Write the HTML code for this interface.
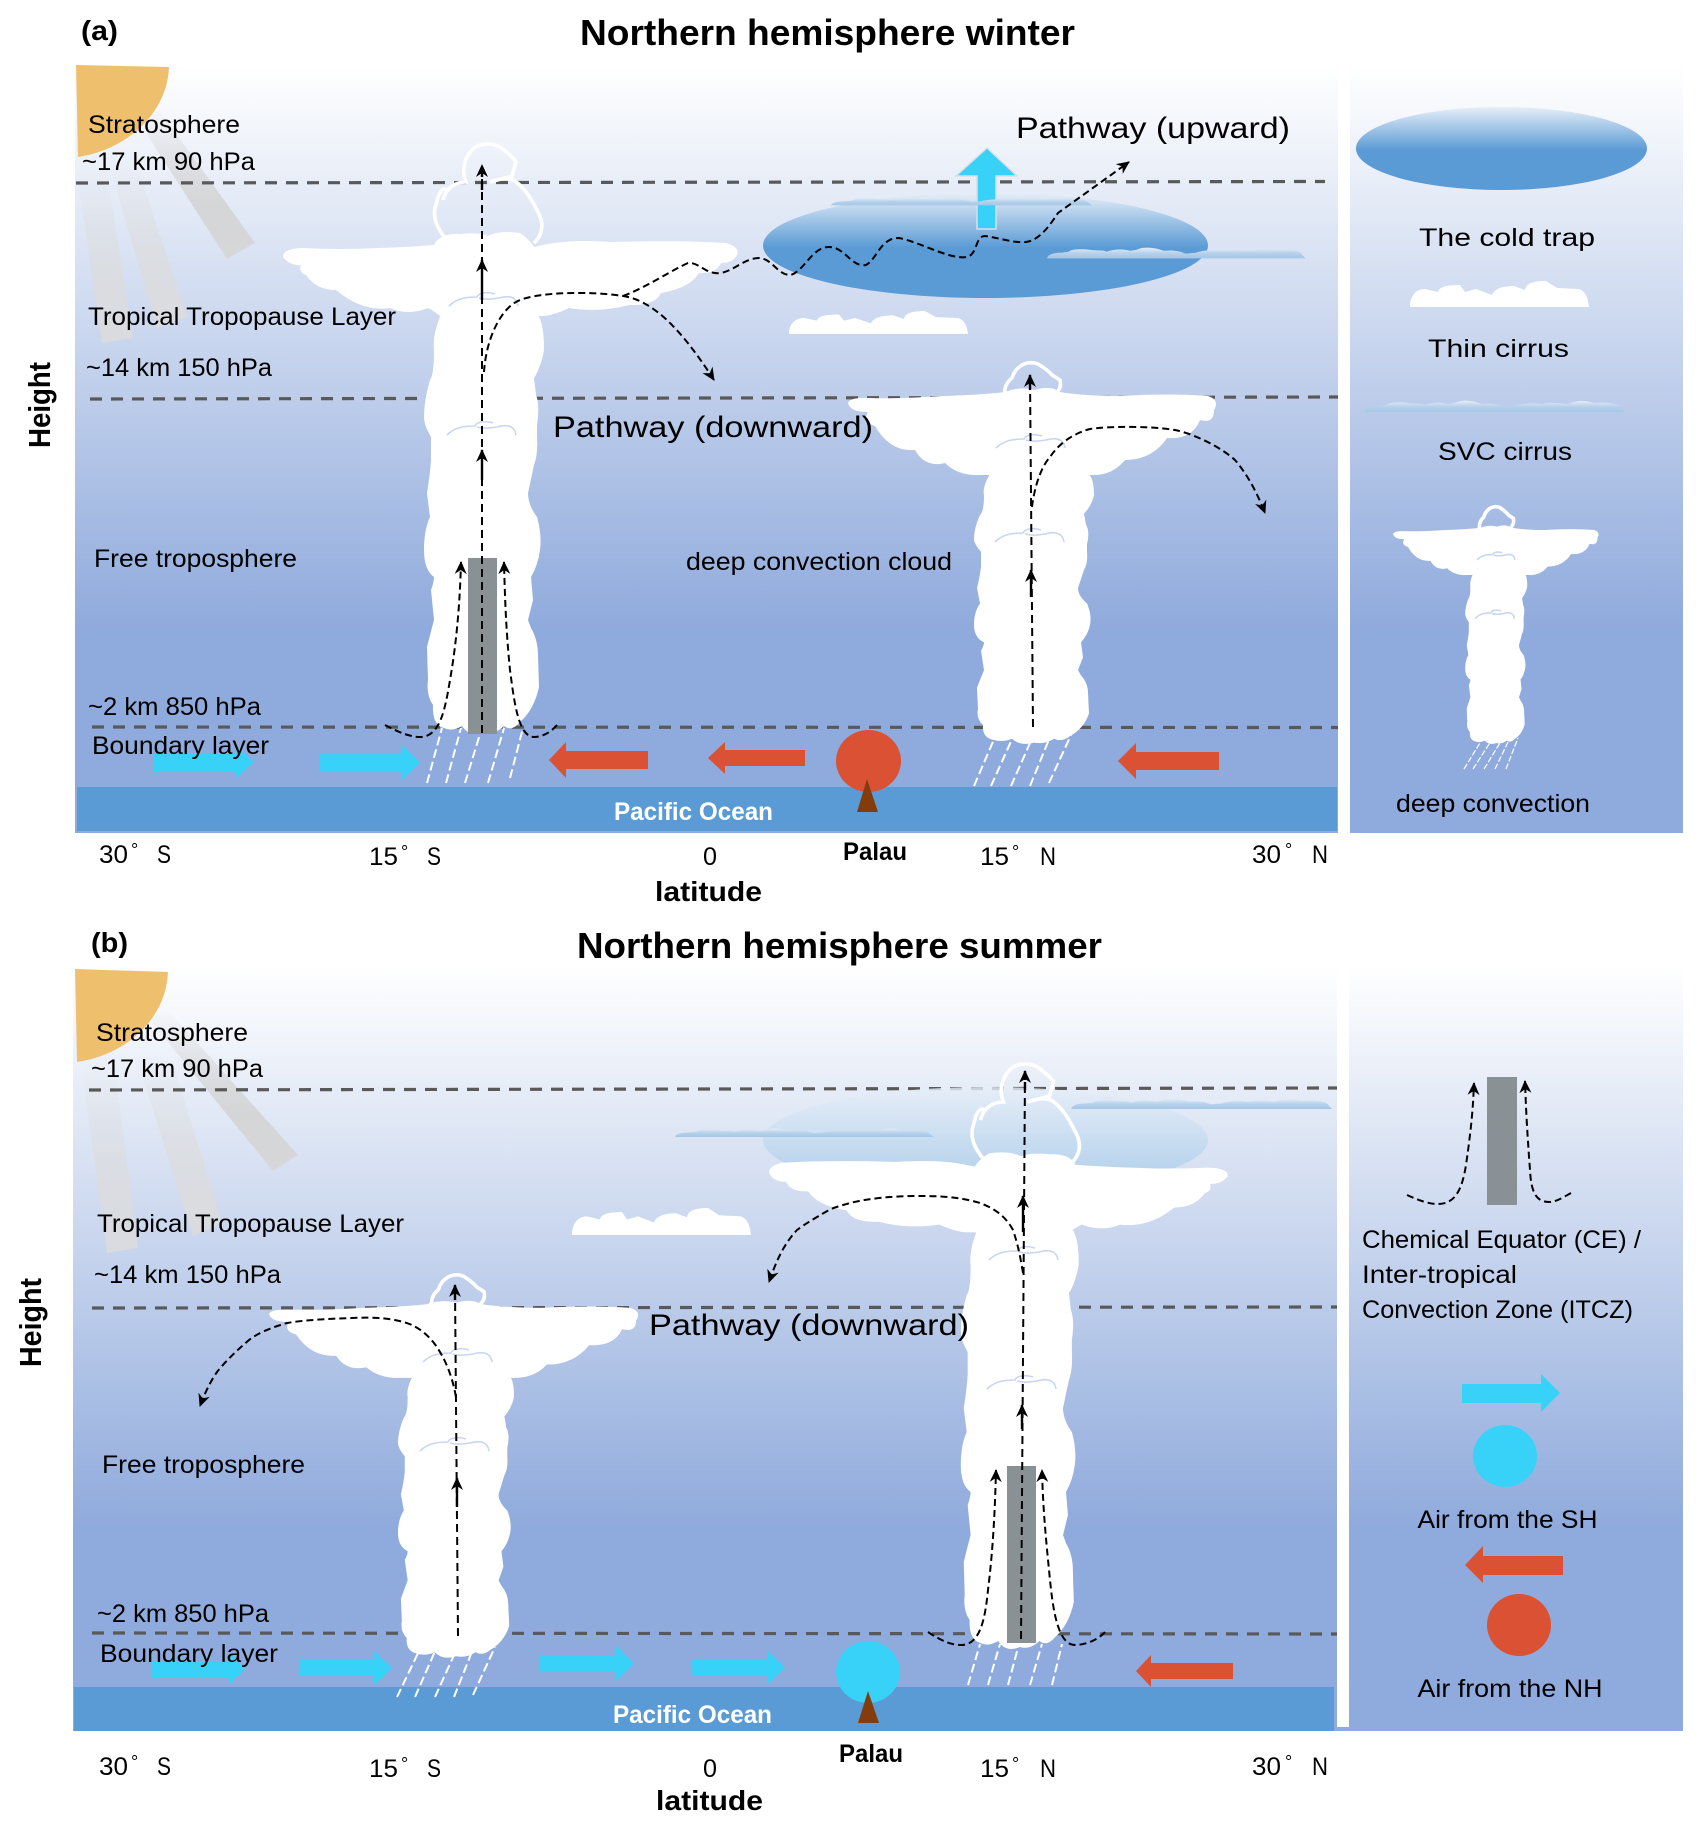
<!DOCTYPE html>
<html><head><meta charset="utf-8"><style>
html,body{margin:0;padding:0;background:#fff}
svg{display:block}
text{font-family:"Liberation Sans",sans-serif;fill:#000;font-size:25px}
.b{font-weight:bold}
.p{font-size:30px}
.dl{stroke:#595959;stroke-width:3.2;stroke-dasharray:12 9;fill:none}
.k{stroke:#000;stroke-width:2;stroke-dasharray:8 5;fill:none}
.c{stroke:#000;stroke-width:2;stroke-dasharray:7 4;fill:none}
.s{stroke:#000;stroke-width:2.4;fill:none}
.r{stroke:#fff;stroke-width:2;stroke-dasharray:9 4;fill:none}
.t{stroke:#fff;stroke-width:3.6;fill:none;vector-effect:non-scaling-stroke}
.a{stroke:#c9d6ef;stroke-width:1.6;fill:none;vector-effect:non-scaling-stroke}
.l{fill:#fff}
</style></head><body>
<svg xmlns="http://www.w3.org/2000/svg" width="1699" height="1828" viewBox="0 0 1699 1828">
<defs>
<linearGradient id="sky" x1="0" y1="0" x2="0" y2="1"><stop offset="0" stop-color="#fff"/><stop offset=".735" stop-color="#8faadc"/><stop offset="1" stop-color="#8faadc"/></linearGradient>
<linearGradient id="trap" x1="0" y1="0" x2="0" y2="1"><stop offset="0" stop-color="#e6eef8"/><stop offset=".52" stop-color="#5b9bd5"/><stop offset="1" stop-color="#5b9bd5"/></linearGradient>
<linearGradient id="trapb" x1="0" y1="0" x2="0" y2="1"><stop offset="0" stop-color="#e6eef8"/><stop offset=".9" stop-color="#a9cce9"/><stop offset="1" stop-color="#a9cce9"/></linearGradient>
<linearGradient id="ray" x1="0" y1="0" x2="0" y2="1"><stop offset="0" stop-color="#cfcfcf" stop-opacity="0"/><stop offset=".65" stop-color="#d3d3d3" stop-opacity=".9"/><stop offset="1" stop-color="#d6d6d6" stop-opacity=".9"/></linearGradient>
<linearGradient id="ray2" x1="0" y1="0" x2="0" y2="1"><stop offset="0" stop-color="#dcdcdc" stop-opacity="0"/><stop offset=".6" stop-color="#dcdcdc" stop-opacity=".75"/><stop offset="1" stop-color="#dcdcdc" stop-opacity=".85"/></linearGradient>
<linearGradient id="svc" x1="0" y1="0" x2="0" y2="1"><stop offset="0" stop-color="#e4edf8"/><stop offset=".55" stop-color="#b5d0ea"/><stop offset="1" stop-color="#a4c7e8"/></linearGradient>
<marker id="ah" markerUnits="userSpaceOnUse" markerWidth="16" markerHeight="14" refX="12" refY="7" orient="auto" viewBox="0 0 16 14"><path d="M0 1 L13 7 L0 13 L4 7 Z" fill="#000"/></marker>
<path id="stem" class="l" d="M442 312 L536 312 C544 322 544 340 544 350 C542 362 538 372 534 378 L536 395 Q540 405 537 425 L537 437 Q538 455 534 465 L528 493 Q528 505 537 517 Q542 535 540 550 Q538 565 531 577 L533 600 L528 620 L531 628 Q538 640 538 655 L539 687 Q534 710 520 722 Q512 732 504 726 Q495 735 484 732 Q470 738 462 726 Q452 732 444 728 Q432 725 433 705 Q426 695 428 680 L427 647 Q430 635 434 620 L431 590 Q434 582 434 577 Q424 570 424 550 Q424 530 430 517 L427 493 Q430 475 431 460 L431 437 Q424 425 424 417 Q424 400 430 380 Q434 375 434 350 Q432 335 442 312 Z"/>
<path id="anvil" class="l" d="M283 257 Q283 248 304 248 Q340 250 379 248 Q410 247 434 245 Q440 233 460 234 Q480 232 488 236 Q500 230 520 233 Q530 240 534 247 Q550 243 564 242 Q580 240 612 242 Q680 240 726 243 Q740 247 737 255 Q733 263 721 263 Q716 274 699 273 Q690 288 661 293 Q655 306 629 305 Q600 313 569 308 Q552 316 542 316 L442 318 Q436 312 428 308 Q408 316 390 308 Q362 312 336 290 Q316 290 306 275 Q298 272 301 265 Q290 266 283 257 Z"/>
<path id="anvil2" class="l" d="M848 403 Q850 397 870 398 Q900 399 942 396 Q980 395 1005 392 Q1020 386 1035 390 Q1050 385 1060 392 Q1085 396 1120 396 Q1170 393 1208 396 Q1220 400 1214 410 Q1214 424 1200 420 Q1192 440 1167 438 Q1152 460 1125 460 Q1112 476 1091 475 L980 475 Q958 476 945 463 Q925 468 915 450 Q890 452 875 426 Q862 422 868 412 Q850 412 848 403 Z"/>
<path id="turret" class="t" d="M447 240 C436 228 432 215 436 205 C438 195 442 186 447 190 M443 200 C446 188 455 182 466 182 C462 172 463 160 472 150 C480 142 495 142 504 150 C510 155 514 158 516 162 L512 176 L490 182 C500 178 510 178 515 181 C525 188 532 200 538 212 C545 225 542 235 534 243"/>
<path id="turret2" class="t" d="M1005 397 Q1003 385 1012 378 Q1014 370 1022 365 Q1030 361 1038 364 Q1048 370 1052 375 L1060 380 Q1062 388 1056 393"/>
<path id="thin" fill="#fff" d="M0 26 C0 16 5 8 15 8 L28 11 C29 6 36 4 50 4 L55 11 L66 8 L82 14 C84 8 92 5 104 5 L115 9 C116 2 124 0 136 0 L147 7 L169 8 C175 10 178 16 179 26 Z"/>
<path id="svcc" fill="url(#svc)" d="M0 12 C1 8 6 6 14 6 L22 5 C24 2 36 2 44 3 C50 4 58 3 60 5 C68 2 78 2 84 4 L90 3 C96 0 104 0 112 2 L118 4 C126 3 134 4 140 7 L150 6 C158 3 170 3 178 4 C186 2 196 3 204 4 C212 0 222 0 230 3 C240 2 252 3 256 6 L261 12 Z"/>
<path id="arc" class="a" d="M0 15 C8 7 18 6 28 6 C30 1 40 1 46 3 M30 7 C38 9 42 8 50 7 C60 4 68 6 69 15"/>
</defs>

<!-- panel backgrounds -->
<rect x="75" y="65" width="1263" height="768" fill="url(#sky)"/>
<rect x="1350" y="65" width="333" height="768" fill="url(#sky)"/>
<rect x="73" y="965" width="1276" height="766" fill="url(#sky)"/>
<rect x="1337" y="960" width="12" height="767" fill="#fff"/>
<rect x="1349" y="965" width="334" height="766" fill="url(#sky)"/>
<rect x="77" y="787" width="1260" height="44" fill="#5b9bd5"/>
<rect x="74" y="1687" width="1260" height="44" fill="#5b9bd5"/>

<!-- panel a: sun and rays -->
<polygon points="157,107 255,243 227,259 146,133" fill="url(#ray)"/>
<polygon points="108,160 135,160 187,317 157,328" fill="url(#ray2)"/>
<polygon points="76,167 106,167 133,338 102,343" fill="url(#ray2)"/>
<path d="M76 65 L169 67 C167 115 125 150 78 157 Z" fill="#eebf6d"/>

<!-- panel a: levels -->
<path class="dl" d="M76 183 L1325 181.5"/>
<path class="dl" d="M90 399 L1338 397"/>
<path class="dl" d="M92 727 L1338 727.5"/>

<!-- panel a: cold trap -->
<ellipse cx="985.5" cy="245.5" rx="222.5" ry="52.5" fill="url(#trap)"/>
<polygon points="987,148 1017,176 996,176 996,229 977,229 977,176 956,176" fill="#38d2f8" stroke="#d9dee6" stroke-width="1.5"/>
<use href="#svcc" transform="translate(831,197) scale(1,.7)"/>
<use href="#svcc" transform="translate(1047,247) scale(.99,.95)"/>
<use href="#thin" transform="translate(789,311) scale(1,.88)"/>

<!-- panel a: cloud 1 -->
<use href="#stem"/>
<use href="#anvil"/>
<use href="#turret"/>
<use href="#arc" transform="translate(449,291)"/>
<use href="#arc" transform="translate(447,420)"/>
<rect x="468" y="558" width="29" height="176" fill="#8a9194"/>
<path class="r" d="M427 783 L442 728 M446 783 L461 728 M465 783 L480 734 M488 783 L504 728 M510 778 L523 728"/>
<path class="k" d="M482 733 L482 168"/>
<path class="s" d="M482 300 L482 260" marker-end="url(#ah)"/>
<path class="s" d="M482 480 L482 450" marker-end="url(#ah)"/>
<path class="s" d="M482 190 L482 165" marker-end="url(#ah)" stroke-dasharray="8 5"/>
<path class="c" d="M385 725 C398 732 410 737 420 737 C440 737 445 710 450 680 C457 640 460 600 461 562" marker-end="url(#ah)"/>
<path class="c" d="M557 725 C550 733 542 737 534 737 C518 737 514 700 510 670 C506 630 505 600 504 562" marker-end="url(#ah)"/>
<path class="c" d="M484 372 C486 340 500 308 520 300 S590 291 623 296 S685 335 714 380" marker-end="url(#ah)"/>
<path class="c" d="M623 296 C645 288 672 270 688 263 C700 262 705 275 721 273 C735 270 745 258 759 258 C772 258 778 276 791 275 C805 270 812 247 829 247 C845 247 852 268 866 265 C878 258 880 238 899 238 C920 242 950 260 967 257 C978 254 975 236 985 236 C1000 238 1012 243 1026 242 C1040 240 1050 225 1058 213 L1129 162" marker-end="url(#ah)"/>

<!-- panel a: cloud 2 -->
<use href="#stem" transform="translate(550,269) scale(1,.647)"/>
<use href="#anvil2"/>
<use href="#turret2"/>
<use href="#arc" transform="translate(996,433)"/>
<use href="#arc" transform="translate(995,527)"/>
<path class="r" d="M974 786 L995 737 M991 786 L1013 737 M1011 786 L1030 743 M1030 786 L1050 737 M1049 783 L1071 735"/>
<path class="k" d="M1033 727 L1030 378"/>
<path class="s" d="M1031 597 L1031 570" marker-end="url(#ah)"/>
<path class="s" d="M1030 390 L1030 375" marker-end="url(#ah)"/>
<path class="c" d="M1032 507 C1034 490 1040 468 1050 457 C1060 442 1075 433 1090 429 C1110 426 1150 426 1175 430 C1195 434 1222 448 1235 460 C1248 475 1258 495 1265 513" marker-end="url(#ah)"/>

<!-- panel a: surface -->
<polygon points="153,753 235,753 235,745 254,762 235,779 235,771 153,771" fill="#38d2f8"/>
<polygon points="320,753 401,753 401,744 420,762.5 401,781 401,772 320,772" fill="#38d2f8"/>
<polygon points="549,760 566,742 566,751 648,751 648,769 566,769 566,778" fill="#da5134"/>
<polygon points="708,758 725,742 725,750 805,750 805,766 725,766 725,774" fill="#da5134"/>
<polygon points="1118,761 1136,743 1136,752 1219,752 1219,770 1136,770 1136,779" fill="#da5134"/>
<ellipse cx="868.5" cy="761" rx="32.5" ry="31" fill="#da5134"/>
<polygon points="867,779 878,812 857,812" fill="#843c0c"/>

<!-- panel a: legend -->
<ellipse cx="1501.5" cy="148.5" rx="145.5" ry="41.5" fill="url(#trap)"/>
<use href="#thin" transform="translate(1410,281)"/>
<use href="#svcc" transform="translate(1364,400)"/>
<use href="#stem" transform="translate(1246,443) scale(.517,.41)"/>
<use href="#anvil2" transform="translate(919.3,304.3) scale(.5586,.57)"/>
<use href="#turret2" transform="translate(862.5,261.5) scale(.614,.676)"/>
<use href="#arc" transform="translate(1477,551) scale(.55,.6)"/>
<use href="#arc" transform="translate(1475,609) scale(.57,.65)"/>
<path d="M1464 769 L1483 738 M1473 769 L1493 738 M1484 769 L1503 738 M1495 769 L1510 738 M1506 769 L1518 738" stroke="#fff" stroke-width="1.2" stroke-dasharray="6 2" fill="none"/>

<!-- panel b: sun and rays -->
<polygon points="165,1007 298,1155 273,1171 150,1020" fill="url(#ray)"/>
<polygon points="135,1053 170,1053 222,1223 193,1236" fill="url(#ray2)"/>
<polygon points="81,1063 114,1063 138,1248 107,1253" fill="url(#ray2)"/>
<path d="M75 969 L168 972 C166 1020 125 1055 77 1062 Z" fill="#eebf6d"/>

<!-- panel b: levels -->
<path class="dl" d="M89 1090 L1337 1088"/>
<path class="dl" d="M92 1308 L1337 1307"/>
<path class="dl" d="M92 1633 L1337 1634"/>

<!-- panel b: cold trap -->
<ellipse cx="985.5" cy="1140" rx="222.5" ry="53" fill="url(#trapb)" opacity=".8"/>
<use href="#svcc" transform="translate(675,1128) scale(.99,.75)"/>
<use href="#svcc" transform="translate(1071,1098) scale(1,.92)"/>
<use href="#thin" transform="translate(572,1208) scale(1,1.04)"/>

<!-- panel b: cloud 1 -->
<use href="#stem" transform="translate(-12,1160) scale(.967,.678)"/>
<use href="#anvil2" transform="translate(-581.5,957) scale(1.003,.886)"/>
<use href="#turret2" transform="translate(-523,923) scale(.95,.97)"/>
<use href="#arc" transform="translate(423,1347)"/>
<use href="#arc" transform="translate(420,1436)"/>
<path class="r" d="M397 1697 L420 1649 M415 1697 L436 1649 M435 1697 L454 1655 M454 1697 L473 1649 M473 1695 L495 1647"/>
<path class="k" d="M458 1636 L455 1288"/>
<path class="s" d="M457 1507 L457 1478" marker-end="url(#ah)"/>
<path class="s" d="M455 1300 L455 1285" marker-end="url(#ah)"/>
<path class="c" d="M456 1397 C452 1375 445 1358 434 1343 C425 1332 418 1328 412 1325 C395 1318 375 1317 352 1318 C325 1319 305 1320 287 1323 C270 1328 258 1333 249 1340 C235 1352 225 1362 217 1372 C210 1382 204 1395 200 1406" marker-end="url(#ah)"/>

<!-- panel b: cloud 2 -->
<use href="#stem" transform="translate(544,915) scale(.983,1)"/>
<use href="#anvil" transform="translate(1513.5,932) scale(-1.009,.95)"/>
<use href="#turret" transform="translate(537.5,920)"/>
<use href="#arc" transform="translate(989,1245)"/>
<use href="#arc" transform="translate(987,1374)"/>
<rect x="1007" y="1466" width="29" height="177" fill="#8a9194"/>
<path class="r" d="M968 1685 L980 1644 M988 1685 L1000 1644 M1008 1685 L1019 1644 M1030 1685 L1042 1644 M1052 1685 L1062 1644"/>
<path class="k" d="M1021 1639 L1025 1074"/>
<path class="s" d="M1023 1232 L1023 1196" marker-end="url(#ah)"/>
<path class="s" d="M1022 1429 L1022 1405" marker-end="url(#ah)"/>
<path class="s" d="M1025 1090 L1025 1071" marker-end="url(#ah)" stroke-dasharray="8 5"/>
<path class="c" d="M928 1632 C940 1640 950 1645 961 1645 C980 1645 985 1620 988 1590 C993 1550 995 1510 996 1470" marker-end="url(#ah)"/>
<path class="c" d="M1105 1632 C1098 1640 1085 1645 1075 1645 C1058 1645 1053 1610 1050 1580 C1046 1540 1043 1510 1042 1470" marker-end="url(#ah)"/>
<path class="c" d="M1023 1273 C1020 1255 1018 1245 1013 1230 C1005 1215 993 1208 980 1203 C960 1197 940 1196 920 1196 C895 1196 870 1198 850 1203 C840 1206 835 1207 829 1210 C815 1218 805 1224 797 1230 C783 1245 776 1262 769 1282" marker-end="url(#ah)"/>

<!-- panel b: surface -->
<polygon points="152,1661 229,1661 229,1653 245,1669 229,1685 229,1677 152,1677" fill="#38d2f8"/>
<polygon points="299,1659 374,1659 374,1651 392,1668 374,1685 374,1676 299,1676" fill="#38d2f8"/>
<polygon points="540,1655 616,1655 616,1646 634,1663.5 616,1681 616,1672 540,1672" fill="#38d2f8"/>
<polygon points="692,1659 768,1659 768,1651 785,1667.5 768,1684 768,1676 692,1676" fill="#38d2f8"/>
<polygon points="1136,1671 1151,1655 1151,1663 1233,1663 1233,1679 1151,1679 1151,1687" fill="#da5134"/>
<ellipse cx="868" cy="1672" rx="32" ry="31" fill="#38d2f8"/>
<polygon points="868,1691 879,1723 858,1723" fill="#843c0c"/>

<!-- panel b: legend -->
<rect x="1487" y="1077" width="30" height="128" fill="#8a9194"/>
<path class="c" d="M1407 1195 C1418 1200 1428 1204 1438 1204 C1455 1204 1462 1190 1466 1165 C1471 1130 1473 1110 1474 1083" marker-end="url(#ah)"/>
<path class="c" d="M1571 1193 C1562 1198 1556 1202 1549 1202 C1535 1202 1531 1190 1530 1170 C1527 1130 1526 1110 1525 1081" marker-end="url(#ah)"/>
<polygon points="1462,1384 1541,1384 1541,1374 1560,1393 1541,1412 1541,1403 1462,1403" fill="#38d2f8"/>
<ellipse cx="1505" cy="1456" rx="32" ry="31" fill="#38d2f8"/>
<polygon points="1465,1565 1483,1546 1483,1556 1563,1556 1563,1575 1483,1575 1483,1583" fill="#da5134"/>
<ellipse cx="1519" cy="1625" rx="32" ry="31" fill="#da5134"/>

<!-- text panel a -->
<text class="b" x="81" y="40" style="font-size:28px" textLength="37" lengthAdjust="spacingAndGlyphs">(a)</text>
<text class="b" x="580" y="45" style="font-size:36px" textLength="495" lengthAdjust="spacingAndGlyphs">Northern hemisphere winter</text>
<text class="b" transform="translate(50,448) rotate(-90)" style="font-size:31px" textLength="86" lengthAdjust="spacingAndGlyphs">Height</text>
<text x="88" y="133" textLength="152" lengthAdjust="spacingAndGlyphs">Stratosphere</text>
<text x="82" y="170" textLength="173" lengthAdjust="spacingAndGlyphs">~17 km 90 hPa</text>
<text x="88" y="325" textLength="308" lengthAdjust="spacingAndGlyphs">Tropical Tropopause Layer</text>
<text x="86" y="376" textLength="186" lengthAdjust="spacingAndGlyphs">~14 km 150 hPa</text>
<text class="p" x="553" y="437" textLength="320" lengthAdjust="spacingAndGlyphs">Pathway (downward)</text>
<text class="p" x="1016" y="138" textLength="274" lengthAdjust="spacingAndGlyphs">Pathway (upward)</text>
<text x="94" y="567" textLength="203" lengthAdjust="spacingAndGlyphs">Free troposphere</text>
<text x="686" y="570" textLength="266" lengthAdjust="spacingAndGlyphs">deep convection cloud</text>
<text x="88" y="715" textLength="173" lengthAdjust="spacingAndGlyphs">~2 km 850 hPa</text>
<text x="92" y="754" textLength="177" lengthAdjust="spacingAndGlyphs">Boundary layer</text>
<text class="b" x="614" y="820" style="fill:#fff" textLength="159" lengthAdjust="spacingAndGlyphs">Pacific Ocean</text>
<text x="99" y="863" textLength="29" lengthAdjust="spacingAndGlyphs">30</text><text x="131" y="856" style="font-size:18px">°</text><text x="157" y="863" textLength="14" lengthAdjust="spacingAndGlyphs">S</text>
<text x="369" y="865" textLength="29" lengthAdjust="spacingAndGlyphs">15</text><text x="401" y="858" style="font-size:18px">°</text><text x="427" y="865" textLength="14" lengthAdjust="spacingAndGlyphs">S</text>
<text x="703" y="865" textLength="14" lengthAdjust="spacingAndGlyphs">0</text>
<text class="b" x="655" y="901" style="font-size:28px" textLength="107" lengthAdjust="spacingAndGlyphs">latitude</text>
<text class="b" x="843" y="860" textLength="64" lengthAdjust="spacingAndGlyphs">Palau</text>
<text x="980" y="865" textLength="29" lengthAdjust="spacingAndGlyphs">15</text><text x="1012" y="858" style="font-size:18px">°</text><text x="1040" y="865" textLength="16" lengthAdjust="spacingAndGlyphs">N</text>
<text x="1252" y="863" textLength="29" lengthAdjust="spacingAndGlyphs">30</text><text x="1285" y="856" style="font-size:18px">°</text><text x="1312" y="863" textLength="16" lengthAdjust="spacingAndGlyphs">N</text>
<text x="1419" y="246" textLength="176" lengthAdjust="spacingAndGlyphs">The cold trap</text>
<text x="1428" y="357" textLength="141" lengthAdjust="spacingAndGlyphs">Thin cirrus</text>
<text x="1438" y="460" textLength="134" lengthAdjust="spacingAndGlyphs">SVC cirrus</text>
<text x="1396" y="812" textLength="194" lengthAdjust="spacingAndGlyphs">deep convection</text>

<!-- text panel b -->
<text class="b" x="91" y="952" style="font-size:28px" textLength="37" lengthAdjust="spacingAndGlyphs">(b)</text>
<text class="b" x="577" y="958" style="font-size:36px" textLength="525" lengthAdjust="spacingAndGlyphs">Northern hemisphere summer</text>
<text class="b" transform="translate(41,1367) rotate(-90)" style="font-size:31px" textLength="89" lengthAdjust="spacingAndGlyphs">Height</text>
<text x="96" y="1041" textLength="152" lengthAdjust="spacingAndGlyphs">Stratosphere</text>
<text x="91" y="1077" textLength="172" lengthAdjust="spacingAndGlyphs">~17 km 90 hPa</text>
<text x="97" y="1232" textLength="307" lengthAdjust="spacingAndGlyphs">Tropical Tropopause Layer</text>
<text x="94" y="1283" textLength="187" lengthAdjust="spacingAndGlyphs">~14 km 150 hPa</text>
<text class="p" x="649" y="1335" textLength="320" lengthAdjust="spacingAndGlyphs">Pathway (downward)</text>
<text x="102" y="1473" textLength="203" lengthAdjust="spacingAndGlyphs">Free troposphere</text>
<text x="97" y="1622" textLength="172" lengthAdjust="spacingAndGlyphs">~2 km 850 hPa</text>
<text x="100" y="1662" textLength="178" lengthAdjust="spacingAndGlyphs">Boundary layer</text>
<text class="b" x="613" y="1723" style="fill:#fff" textLength="159" lengthAdjust="spacingAndGlyphs">Pacific Ocean</text>
<text x="99" y="1775" textLength="29" lengthAdjust="spacingAndGlyphs">30</text><text x="131" y="1768" style="font-size:18px">°</text><text x="157" y="1775" textLength="14" lengthAdjust="spacingAndGlyphs">S</text>
<text x="369" y="1777" textLength="29" lengthAdjust="spacingAndGlyphs">15</text><text x="401" y="1770" style="font-size:18px">°</text><text x="427" y="1777" textLength="14" lengthAdjust="spacingAndGlyphs">S</text>
<text x="703" y="1777" textLength="14" lengthAdjust="spacingAndGlyphs">0</text>
<text class="b" x="656" y="1810" style="font-size:28px" textLength="107" lengthAdjust="spacingAndGlyphs">latitude</text>
<text class="b" x="839" y="1762" textLength="64" lengthAdjust="spacingAndGlyphs">Palau</text>
<text x="980" y="1777" textLength="29" lengthAdjust="spacingAndGlyphs">15</text><text x="1012" y="1770" style="font-size:18px">°</text><text x="1040" y="1777" textLength="16" lengthAdjust="spacingAndGlyphs">N</text>
<text x="1252" y="1775" textLength="29" lengthAdjust="spacingAndGlyphs">30</text><text x="1285" y="1768" style="font-size:18px">°</text><text x="1312" y="1775" textLength="16" lengthAdjust="spacingAndGlyphs">N</text>
<text x="1362" y="1248" textLength="279" lengthAdjust="spacingAndGlyphs">Chemical Equator (CE) /</text>
<text x="1362" y="1283" textLength="155" lengthAdjust="spacingAndGlyphs">Inter-tropical</text>
<text x="1362" y="1318" textLength="271" lengthAdjust="spacingAndGlyphs">Convection Zone (ITCZ)</text>
<text x="1417.5" y="1528" textLength="180" lengthAdjust="spacingAndGlyphs">Air from the SH</text>
<text x="1417.5" y="1697" textLength="185" lengthAdjust="spacingAndGlyphs">Air from the NH</text>
</svg>
</body></html>
